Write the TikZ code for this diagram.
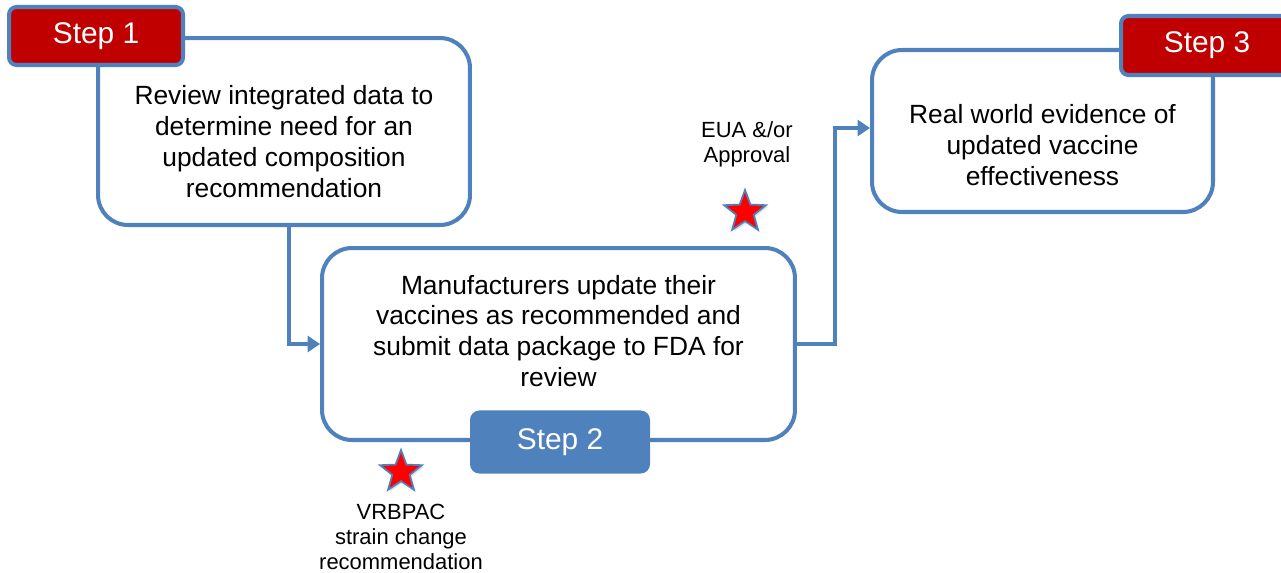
\documentclass[tikz,border=0pt]{standalone}
\usepackage{fontspec}
\setmainfont{Liberation Sans}
\usetikzlibrary{shapes.geometric,arrows.meta,shadows,positioning}
\definecolor{stepblue}{RGB}{79,129,189}
\definecolor{stepred}{RGB}{192,0,0}
\tikzset{
  stage/.style={draw=stepblue, line width=2.3pt, rounded corners=0.6cm, fill=white, inner sep=0pt},
  stagetext/.style={align=center, font=\fontsize{15}{17.6}\selectfont, inner sep=0pt},
  tab/.style={draw=stepblue, line width=2.3pt, rounded corners=0.15cm, text=white,
    font=\fontsize{17}{20}\selectfont, minimum width=3.48cm, minimum height=1.16cm, inner sep=0pt},
  flow/.style={draw=stepblue, line width=2.3pt, -{Triangle[length=7pt,width=9pt]}},
  milestone/.style={star, star points=5, star point ratio=2.4, minimum size=0.88cm, inner sep=0pt,
    fill=red, draw=stepblue, line width=1pt, drop shadow={opacity=0.25, shadow xshift=1pt, shadow yshift=-1pt}},
  note/.style={align=center, font=\fontsize{12.5}{14.2}\selectfont, inner sep=0pt}
}
\begin{document}
\begin{tikzpicture}[x=0.02cm, y=-0.02cm]
  \useasboundingbox (0,0) rectangle (1281,572);
  \clip (0,0) rectangle (1281,572);

  \node[stage, minimum width=7.44cm, minimum height=3.74cm] (review) at (284,131.5) {};
  \node[stagetext] (review-text) at ([yshift=-0.2cm]review.center)
    {Review integrated data to\\determine need for an\\updated composition\\recommendation};

  \node[stage, minimum width=9.46cm, minimum height=3.84cm] (update) at (558.5,344) {};
  \node[stagetext] (update-text) at ([yshift=0.26cm]update.center)
    {Manufacturers update their\\vaccines as recommended and\\submit data package to FDA for\\review};

  \node[stage, minimum width=6.82cm, minimum height=3.24cm] (evidence) at (1042.5,131) {};
  \node[stagetext] (evidence-text) at ([yshift=-0.28cm]evidence.center)
    {Real world evidence of\\updated vaccine\\effectiveness};

  \node[tab, fill=stepred] (step1) at (review.north west) {Step 1};
  \node[tab, fill=stepblue, minimum width=3.52cm, minimum height=1.18cm] (step2) at ([xshift=0.03cm]update.south) {Step 2};
  \node[tab, fill=stepred, minimum width=3.44cm, minimum height=1.18cm] (step3) at (1207,45.5) {Step 3};

  \draw[flow] ([xshift=0.1cm]review.south) |- (update.west);
  \draw[flow] (update.east) -- ++(38,0) coordinate (bend) |- ([yshift=0.06cm]evidence.west);

  \node[milestone] (eua-star) at (745,212) {};
  \node[note] (eua) at (747,144.5) {EUA \&/or\\Approval};

  \node[milestone] (vrbpac-star) at (401,472) {};
  \node[note] (vrbpac) at (401,537) {VRBPAC\\strain change\\recommendation};
\end{tikzpicture}
\end{document}
